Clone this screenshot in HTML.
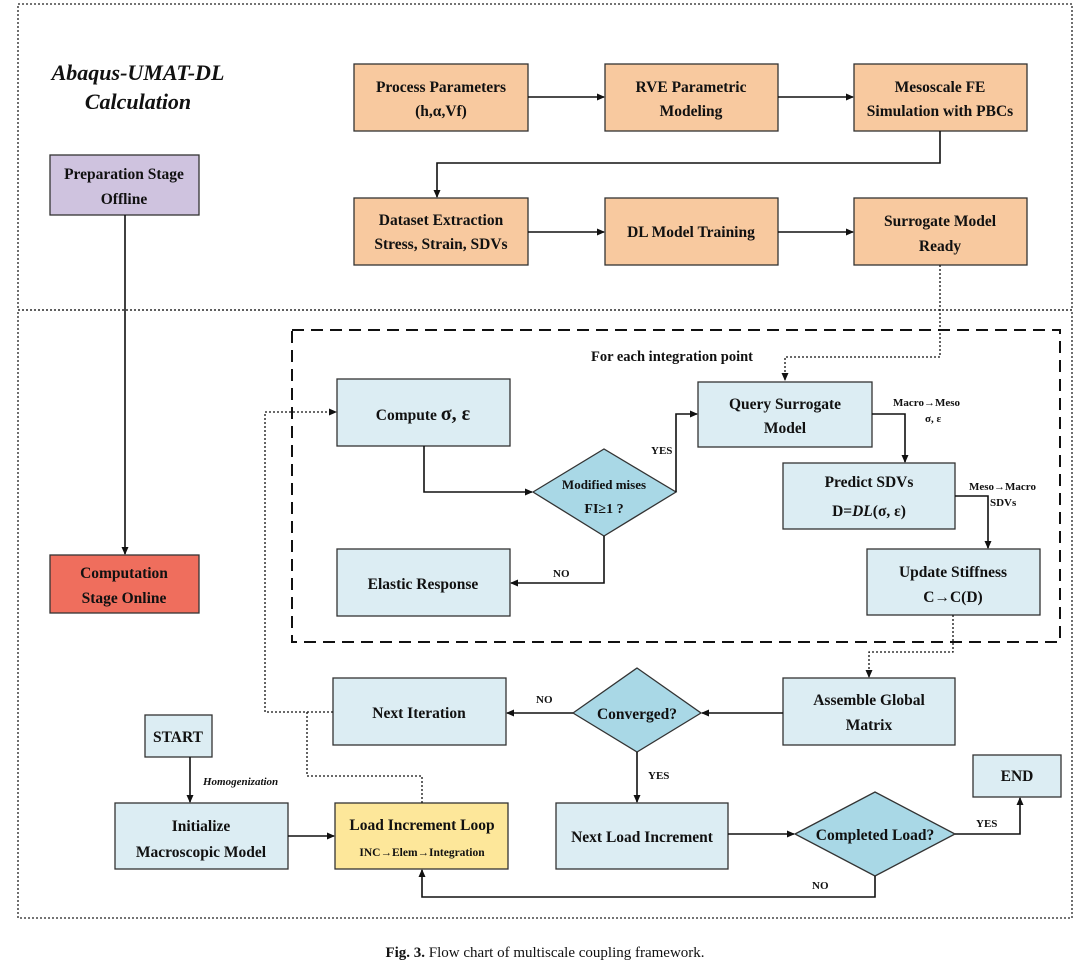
<!DOCTYPE html>
<html><head><meta charset="utf-8"><style>
body{margin:0;background:#fff}
svg{display:block}
text{font-family:"Liberation Serif",serif;font-weight:bold;fill:#111}
.b{font-size:15.5px}
.s{font-size:11px}
.box{stroke:#333;stroke-width:1.3}
.ln{stroke:#111;stroke-width:1.6;fill:none}
.dt{stroke:#111;stroke-width:1.3;fill:none;stroke-dasharray:2 2}
</style></head><body>
<svg width="1080" height="969" viewBox="0 0 1080 969" xmlns="http://www.w3.org/2000/svg">
<defs><marker id="a" markerWidth="8" markerHeight="8" refX="7" refY="4" orient="auto" markerUnits="userSpaceOnUse"><path d="M0,0.5 L8,4 L0,7.5z" fill="#111"/></marker></defs>
<rect x="18" y="4" width="1054" height="306" fill="none" stroke="#222" stroke-width="1.3" stroke-dasharray="2 2"/>
<rect x="18" y="310" width="1054" height="608" fill="none" stroke="#222" stroke-width="1.3" stroke-dasharray="2 2"/>
<rect x="292" y="330" width="768" height="312" fill="none" stroke="#111" stroke-width="2" stroke-dasharray="12 7"/>
<text x="138" y="80" text-anchor="middle" style="font-size:22px;font-style:italic">Abaqus-UMAT-DL</text>
<text x="138" y="109" text-anchor="middle" style="font-size:22px;font-style:italic">Calculation</text>
<g class="box" fill="#f8c99f">
<rect x="354" y="64" width="174" height="67"/><rect x="605" y="64" width="173" height="67"/><rect x="854" y="64" width="173" height="67"/>
<rect x="354" y="198" width="174" height="67"/><rect x="605" y="198" width="173" height="67"/><rect x="854" y="198" width="173" height="67"/>
</g>
<rect class="box" x="50" y="155" width="149" height="60" fill="#cfc3df"/>
<rect class="box" x="50" y="555" width="149" height="58" fill="#ef6e5d"/>
<g class="box" fill="#dcedf3">
<rect x="337" y="379" width="173" height="67"/><rect x="698" y="382" width="174" height="65"/>
<rect x="783" y="463" width="172" height="66"/><rect x="867" y="549" width="173" height="66"/>
<rect x="337" y="549" width="173" height="67"/><rect x="783" y="678" width="172" height="67"/>
<rect x="333" y="678" width="173" height="67"/><rect x="145" y="715" width="67" height="42"/>
<rect x="115" y="803" width="173" height="66"/><rect x="556" y="803" width="172" height="66"/>
<rect x="973" y="755" width="88" height="42"/>
</g>
<rect class="box" x="335" y="803" width="173" height="66" fill="#fde79a"/>
<g class="box" fill="#a9d8e6">
<polygon points="533,492 604,449 676,492 604,536"/>
<polygon points="573,713 637,668 701,713 637,752"/>
<polygon points="795,834 875,792 955,834 875,876"/>
</g>
<g class="b" text-anchor="middle">
<text x="441" y="92">Process Parameters</text><text x="441" y="116">(h,α,Vf)</text>
<text x="691" y="92">RVE Parametric</text><text x="691" y="116">Modeling</text>
<text x="940" y="92">Mesoscale FE</text><text x="940" y="116">Simulation with PBCs</text>
<text x="441" y="225">Dataset Extraction</text><text x="441" y="249">Stress, Strain, SDVs</text>
<text x="691" y="237">DL Model Training</text>
<text x="940" y="226">Surrogate Model</text><text x="940" y="251">Ready</text>
<text x="124" y="179">Preparation Stage</text><text x="124" y="204">Offline</text>
<text x="124" y="578">Computation</text><text x="124" y="603">Stage Online</text>
<text x="672" y="361" style="font-size:14.5px">For each integration point</text>
<text x="423" y="420">Compute <tspan style="font-size:20px">σ, ε</tspan></text>
<text x="785" y="409">Query Surrogate</text><text x="785" y="433">Model</text>
<text x="869" y="487">Predict SDVs</text><text x="869" y="516">D=<tspan font-style="italic">DL</tspan>(σ, ε)</text>
<text x="953" y="577">Update Stiffness</text><text x="953" y="602">C→C(D)</text>
<text x="423" y="589">Elastic Response</text>
<text x="869" y="705">Assemble Global</text><text x="869" y="730">Matrix</text>
<text x="419" y="718">Next Iteration</text>
<text x="178" y="742">START</text>
<text x="201" y="831">Initialize</text><text x="201" y="857">Macroscopic Model</text>
<text x="422" y="830">Load Increment Loop</text>
<text x="422" y="856" style="font-size:11.5px">INC→Elem→Integration</text>
<text x="642" y="842">Next Load Increment</text>
<text x="1017" y="781">END</text>
<text x="604" y="489" style="font-size:13px">Modified mises</text><text x="604" y="513" style="font-size:14px">FI≥1 ?</text>
<text x="637" y="719">Converged?</text>
<text x="875" y="840">Completed Load?</text>
</g>
<g class="s">
<text x="651" y="454">YES</text><text x="553" y="577">NO</text>
<text x="893" y="406">Macro→Meso</text><text x="925" y="422">σ, ε</text>
<text x="969" y="490">Meso→Macro</text><text x="990" y="506">SDVs</text>
<text x="536" y="703">NO</text><text x="648" y="779">YES</text>
<text x="976" y="827">YES</text><text x="812" y="889">NO</text>
<text x="203" y="785" font-style="italic">Homogenization</text>
</g>
<g class="ln" marker-end="url(#a)">
<path d="M528,97H604"/><path d="M778,97H853"/>
<path d="M940,131V163H437V197"/>
<path d="M528,232H604"/><path d="M778,232H853"/>
<path d="M125,215V554"/>
<path d="M424,446V492H532"/>
<path d="M676,492V414H697"/>
<path d="M604,536V583H511"/>
<path d="M872,414H905V462"/>
<path d="M955,496H988V548"/>
<path d="M783,713H702"/>
<path d="M573,713H507"/>
<path d="M637,752V802"/>
<path d="M190,757V802"/>
<path d="M288,836H334"/>
<path d="M728,834H794"/>
<path d="M955,834H1020V798"/>
<path d="M875,876V897H422V870"/>
</g>
<g class="dt">
<path d="M940,265V357H785V380" marker-end="url(#a)"/>
<path d="M333,712H265V412H336" marker-end="url(#a)"/>
<path d="M953,615V652H869V677" marker-end="url(#a)"/>
<path d="M422,803V776H307V712"/>
</g>
<text x="545" y="957" text-anchor="middle" style="font-size:15px;font-weight:normal"><tspan font-weight="bold">Fig. 3.</tspan> Flow chart of multiscale coupling framework.</text>
</svg>
</body></html>
